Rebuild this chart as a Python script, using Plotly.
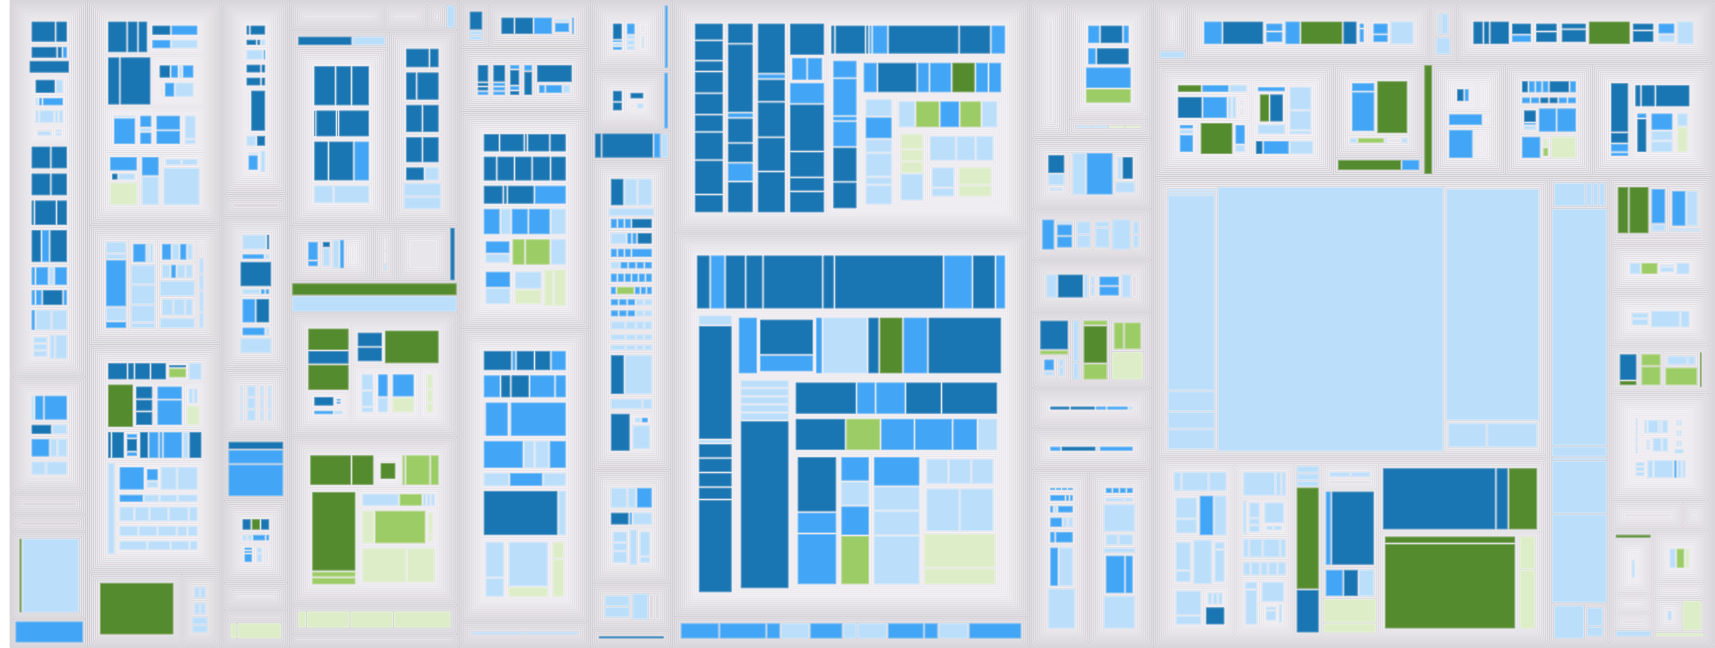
import plotly.graph_objects as go

# ---- leaf colour categories ----
COLORS = {'D': '#1a76b3', 'M': '#42a5f5', 'L': '#bbdefb', 'G': '#558b2f',
          'g': '#9ccc65', 'p': '#dcedc8', 'e': '#e9e6eb'}

# group = [orientation, frames, total, *children] ; leaf = (category, value)
A1 = ['V', 6, 24150,
      ['H', 0, None, ('D', 420), ('D', 200)],
      ['H', 0, None, ('D', 280), ('D', 56), ('M', 56)],
      ('D', 315),
      ['V', 1, None,
       ['H', 0, None, ('D', 360), ('L', 144)],
       ['H', 0, None, ('L', 45), ('M', 45), ('M', 255)],
       ['H', 0, None, ('L', 68), ('L', 255), ('L', 68), ('L', 85)],
       ['H', 0, None, ['V', 0, None, ('L', 66), ('L', 200)], ['V', 0, None, ('L', 72), ('L', 72)]]],
      ['H', 0, None, ('D', 360), ('D', 300)],
      ['H', 0, None, ('D', 360), ('D', 300)],
      ['H', 0, None, ('D', 66), ('D', 440), ('D', 220)],
      ['H', 0, None, ('D', 260), ('M', 208), ('D', 442)],
      ['H', 0, None, ('M', 68), ('M', 204), ('L', 85), ('M', 204)],
      ['H', 0, None, ('M', 60), ('M', 90), ('D', 280), ('M', 60)],
      ['H', 0, None, ('M', 72), ('L', 270), ('L', 270)],
      ['H', 0, None, ['V', 0, None, ('L', 120), ('L', 120), ('L', 120)], ('L', 100), ('L', 240)]]
A2 = ['V', 6, 7490,
      ['H', 0, None, ('L', 90), ('M', 240), ('M', 600)],
      ['H', 0, None, ('D', 260), ('L', 195)],
      ['H', 0, None, ('M', 375), ('L', 150), ('L', 200)],
      ['H', 0, None, ('L', 238), ('L', 340)]]
COL_A = ['V', 0, 41440, A1, A2,
         ['H', 3, 1400, ('L', 15), ('L', 10), ('L', 10), ('L', 10), ('L', 15)],
         ['H', 4, 1120, ('e', 1)],
         ['H', 1, 5600, ('G', 3), ('L', 57)],
         ['H', 0, 1680, ('M', 1)]]

B1 = ['V', 6, 25215,
      ['H', 0, None, ('D', 594), ('D', 330), ('D', 297),
       ['V', 0, None, ['H', 0, None, ('D', 352), ('M', 496)], ['H', 0, None, ('M', 330), ('L', 465)]]],
      ['H', 0, None, ('D', 550), ('D', 1375),
       ['V', 1, None,
        ['H', 0, None, ('D', 360), ('M', 240), ('L', 120), ('M', 360)],
        ['H', 0, None, ['V', 0, None, ('M', 90), ('M', 90)], ('M', 352), ('L', 644)]]],
      ['H', 1, None, ['V', 0, None, ('L', 100), ('M', 1000)], ['V', 0, None, ('M', 289), ('L', 102), ('M', 289)],
       ['V', 0, None, ('M', 616), ('M', 588)], ['V', 0, None, ('L', 525), ('L', 120)]],
      ['H', 0, None, ['V', 0, None, ('M', 455), ['H', 0, None, ('D', 96), ('L', 252)], ('p', 726)],
       ['V', 0, None, ('M', 420), ('L', 630)],
       ['V', 0, None, ['H', 0, None, ('L', 221), ('L', 221)], ('L', 1520)]]]
B2 = ['H', 6, 13530,
      ['V', 0, None, ('L', 420), ('L', 210), ('M', 1620), ('L', 500), ('M', 246)],
      ['V', 0, None, ['H', 0, None, ('M', 590), ('L', 148), ('L', 177)], ('L', 787), ('L', 787), ('L', 689), ('L', 246)],
      ['V', 0, None, ['H', 0, None, ('M', 360), ('L', 288), ('M', 259), ('L', 216)],
       ['H', 0, None, ('L', 288), ('M', 173), ('L', 288), ('L', 230)], ('L', 864),
       ['H', 0, None, ('L', 432), ('L', 432), ('L', 288)], ('L', 576)],
      ['V', 0, None, ['H', 0, None, ('L', 100), ('L', 100)], ('L', 200), ('L', 200), ('L', 268), ('L', 200)]]
B3 = ['V', 6, 25830,
      ['H', 0, None, ('D', 330), ('D', 110), ('D', 264), ('D', 264), ['V', 0, None, ('D', 90), ('g', 270)], ('L', 220)],
      ['H', 0, None, ('G', 946), ['V', 0, None, ('D', 260), ('D', 240), ('D', 280)],
       ['V', 0, None, ('M', 375), ('M', 700)], ['V', 0, None, ['H', 0, None, ('L', 160), ('L', 160)], ('p', 320)]],
      ['H', 0, None, ('D', 93), ('D', 310), ['V', 0, None, ('M', 75), ('D', 210), ('M', 75)], ('D', 217),
       ('M', 248), ('M', 93), ('M', 465), ('L', 155), ('D', 310)],
      ['H', 0, None, ('L', 552),
       ['V', 0, None,
        ['H', 0, None, ('M', 644), ['V', 0, None, ('M', 255), ('L', 150)], ('L', 425), ('L', 532)],
        ['H', 0, None, ('M', 276), ('L', 180), ('L', 204), ('L', 228)],
        ['H', 0, None, ('L', 270), ('L', 270), ('L', 342), ('L', 360), ('L', 162)],
        ['H', 0, None, ('L', 264), ('L', 264), ('L', 264), ('L', 144), ('L', 144)],
        ['H', 0, None, ('L', 360), ('L', 300), ('L', 240), ('L', 108)]]]]
B4 = ['H', 0, 8241, ['H', 2, 5896, ('G', 1)],
      ['V', 3, 2345, ['H', 0, None, ('L', 1), ('L', 1)], ['H', 0, None, ('L', 1), ('L', 1)], ('L', 1), ('L', 1)]]
COL_B = ['V', 0, 72816, B1, B2, B3, B4]

C1 = ['V', 8, 10850,
      ['H', 0, None, ('D', 60), ('D', 240)],
      ['H', 0, None, ('D', 121), ('D', 44), ('L', 55)],
      ['H', 0, None, ('L', 266), ('M', 42)],
      ['H', 0, None, ('D', 209), ('D', 66)],
      ['H', 0, None, ('D', 209), ('D', 66)],
      ['H', 0, None, ['V', 0, None, ('M', 144), ('M', 42), ('M', 42)], ('D', 731)],
      ['H', 0, None, ('L', 168), ('D', 150)],
      ['H', 0, None, ['V', 0, None, ('L', 57), ('M', 342)], ('L', 154)]]
C3 = ['V', 6, 8680,
      ['H', 0, None, ('L', 418), ('D', 57)],
      ['H', 0, None, ('M', 187), ('L', 44)],
      ('D', 621),
      ['H', 0, None, ('L', 156), ('M', 39), ('M', 39)],
      ['H', 0, None, ('M', 348), ('D', 348)],
      ['H', 0, None, ('M', 260), ('L', 52)],
      ('L', 378)]
C6 = ['V', 6, 4650,
      ['H', 0, None, ('D', 112), ('G', 112), ('D', 112)],
      ['H', 0, None, ('L', 44), ('L', 44), ('M', 110), ('M', 33)],
      ['H', 0, None, ['V', 0, None, ('M', 48), ('M', 48), ('M', 132)], ['V', 0, None, ('L', 72), ('L', 108)],
       ['V', 0, None, ('L', 40), ('L', 60)]]]
COL_C = ['V', 0, 36704, C1,
         ['H', 4, 1240, ('L', 1), ('L', 1), ('L', 1), ('L', 1)],
         C3,
         ['H', 5, 3844, ['V', 0, None, ('L', 30), ('L', 42), ('L', 42), ('L', 42)],
          ['V', 0, None, ('L', 100), ('L', 100), ('L', 100)], ['V', 0, None, ('L', 60), ('L', 60), ('L', 60)],
          ['V', 0, None, ('L', 60), ('L', 60), ('L', 60)]],
         ['V', 0, 3596, ('D', 7), ('M', 12), ('M', 27)],
         C6,
         ['H', 6, 1550, ('L', 10), ('L', 3)],
         ['V', 0, 1984, ['H', 3, 8, ('e', 1)], ['H', 0, 24, ('p', 7), ('p', 45)]]]

D2 = ['H', 0, 27900,
      ['V', 0, 16560, ['H', 0, 1196, ('D', 52), ('L', 32)],
       ['V', 6, 15364,
        ['H', 0, None, ('D', 968), ('D', 704), ('D', 792)],
        ['H', 0, None, ('D', 64), ('D', 640), ('D', 64), ('D', 960)],
        ['H', 0, None, ('D', 645), ('D', 1118), ('M', 688)],
        ['H', 0, None, ('L', 440), ('L', 800)]]],
      ['V', 6, 11340,
       ['H', 0, None, ('D', 374), ('D', 154)],
       ['H', 0, None, ('D', 240), ('D', 480)],
       ['H', 0, None, ('D', 360), ('D', 360)],
       ['H', 0, None, ('D', 336), ('D', 336)],
       ['H', 0, None, ('D', 224), ('L', 176)],
       ('L', 308), ('L', 280)]]
D3 = ['H', 0, 8215,
      ['H', 5, 3975, ['V', 0, None, ('M', 36), ('M', 12)], ['V', 0, None, ('D', 10), ('L', 30)], ('L', 24), ('M', 16),
       ['H', 2, 56, ('e', 1)]],
      ['V', 4, 1166, ['H', 0, None, ('L', 1), ('L', 1)], ['H', 0, None, ('L', 1), ('L', 1)], ('L', 1)],
      ['H', 5, 2650, ('e', 1)],
      ('D', 265)]
D6 = ['H', 6, 17825,
      ['V', 0, None, ('G', 720), ('D', 440), ('G', 840),
       ['V', 1, None, ['H', 0, None, ('D', 414), ['V', 0, None, ('M', 88), ('M', 99)]], ['H', 0, None, ('M', 253), ('L', 121)]]],
      ['V', 0, None, ['H', 0, None, ['V', 0, None, ('D', 429), ('D', 429)], ('G', 1598)],
       ['H', 0, None,
        ['H', 1, None, ['V', 0, None, ('L', 340), ('L', 340), ('L', 119)], ['V', 0, None, ('M', 420), ('L', 285)],
         ['V', 0, None, ('M', 756), ('p', 513)]],
        ['V', 1, None, ('p', 320), ('p', 272), ('p', 208)]]]]
D7 = ['V', 6, 24025,
      ['H', 0, None, ('G', 1480), ('G', 800), ['V', 1, None, ('g', 90), ('G', 900)], ('g', 120), ('g', 880), ('g', 320)],
      ['H', 0, None, ['V', 0, None, ('G', 4278), ('g', 322), ('g', 414)],
       ['V', 0, None, ['H', 0, None, ('L', 770), ('g', 484), ('L', 88), ('L', 88), ('L', 88)],
        ['H', 0, None, ('p', 585), ('g', 2385), ['V', 0, None, ('p', 330), ('p', 100)]],
        ['H', 0, None, ('p', 2150), ('p', 1376)]]]]
COL_D = ['V', 0, 91760,
         ['H', 0, 3875, ['H', 4, 2100, ('e', 1)], ['H', 4, 1000, ('e', 1)], ['V', 3, 450, ('e', 1)], ('L', 200)],
         D2, D3, ('G', 1860), ('L', 2325), D6, D7,
         ['H', 2, 4185, ('p', 8), ('p', 40), ('p', 40), ('p', 53)],
         ['H', 1, 1550, ('G', 1)]]

E3 = ['V', 8, 24000,
      ['H', 0, None, ('D', 352), ('D', 528), ('D', 66), ('D', 484), ('D', 352)],
      ['H', 0, None, ('D', 378), ('D', 486), ('D', 486), ('D', 513), ('D', 432)],
      ['H', 0, None, ('D', 440), ('D', 88), ('D', 594), ('M', 704)],
      ['H', 0, None, ('M', 493), ('L', 319), ('M', 493), ('M', 638), ('L', 464)],
      ['H', 0, None, ['V', 0, None, ('M', 480), ('L', 352)], ('g', 377), ('g', 725), ('L', 464)],
      ['H', 0, None, ['V', 0, None, ('M', 576), ('L', 576)], ['V', 0, None, ('L', 660), ('p', 561)], ('p', 380), ('p', 494)]]
E4 = ['V', 8, 32400,
      ['H', 0, None, ('D', 756), ('M', 108), ('D', 486), ('D', 432), ('M', 405)],
      ['H', 0, None, ('M', 510), ('D', 300), ('D', 540), ('M', 750), ('M', 330)],
      ['H', 0, None, ('L', 80), ('M', 960), ('L', 80), ('M', 2320)],
      ['H', 0, None, ('M', 1386), ('L', 396), ('L', 495), ('M', 594)],
      ['H', 0, None, ('L', 504), ('M', 648), ('L', 450)],
      ['H', 0, None, ('D', 3969), ('L', 441)],
      ['H', 0, None, ['V', 0, None, ('L', 1025), ('L', 550)], ['V', 0, None, ('L', 2444), ('p', 564)],
       ['V', 0, None, ('p', 342), ('p', 756)]]]
COL_E = ['V', 0, 71040,
         ['H', 0, 5040, ['V', 1, 1050, ('D', 22), ('L', 6), ('L', 6)],
          ['H', 5, 3990, ('D', 10), ('D', 14), ('M', 14), ['V', 0, 14, ('L', 2), ('M', 6)], ('M', 2)]],
         ['H', 6, 6960, ['V', 0, None, ('D', 156), ('D', 39), ('D', 39), ('M', 39)],
          ['V', 0, None, ('D', 168), ('M', 42), ('M', 42), ('M', 42)],
          ['V', 0, None, ('M', 39), ('D', 130), ('M', 39), ('D', 39)],
          ['V', 0, None, ('M', 48), ('D', 176)],
          ['V', 0, None, ('D', 405), ['H', 0, None, ('M', 60), ('M', 156), ('L', 72)]]],
         E3, E4,
         ['H', 4, 2640, ('L', 58), ('L', 55)]]

F4 = ['V', 6, 21375,
      ['H', 0, None, ('D', 325), ('L', 325), ('L', 350)],
      ('L', 264),
      ['H', 0, None, ('M', 75), ('M', 75), ('M', 75), ('D', 225)],
      ['H', 0, None, ('L', 195), ('M', 60), ('M', 60), ('D', 180)],
      ['H', 0, None, ('M', 70), ('M', 70), ('M', 70), ('M', 210)],
      ['H', 0, None, ('L', 84), ('M', 70), ('M', 70), ('M', 70), ('M', 70)],
      ['H', 0, None, ('M', 70), ('M', 70), ('M', 70), ('M', 70), ('M', 70), ('M', 70)],
      ['H', 0, None, ('M', 56), ('g', 168), ('M', 56), ('M', 56), ('M', 56)],
      ['H', 0, None, ('M', 70), ('M', 70), ('M', 70), ('L', 70), ('L', 70)],
      ['H', 0, None, ('M', 70), ('M', 70), ('M', 70), ('L', 70), ('L', 70)],
      ['H', 0, None, ('L', 150), ('L', 100), ('L', 80), ('L', 80)],
      ['H', 0, None, ('L', 120), ('L', 80), ('L', 64), ('L', 64)],
      ['H', 0, None, ('L', 120), ('L', 80), ('L', 64), ('L', 64)],
      ['H', 0, None, ('D', 462), ('L', 924)],
      ['H', 0, None, ('L', 352), ('L', 110)],
      ['H', 0, None, ('D', 630), ['V', 0, None, ['H', 0, None, ('L', 100), ('M', 100)], ('L', 500)]]]
COL_F = ['V', 0, 44400,
         ['H', 0, 4650,
          ['H', 6, 4400, ['V', 0, None, ('D', 156), ('M', 24), ('L', 36), ('M', 36)],
           ['V', 0, None, ('M', 100), ('L', 40), ('L', 50), ('L', 40)],
           ['V', 0, None, ['H', 0, None, ('L', 40), ('L', 40)], ['H', 0, None, ('g', 30), ('L', 90)]]],
          ('M', 250)],
         ['H', 0, 4200,
          ['H', 6, 3950, ['V', 0, None, ('D', 169), ('D', 130)],
           ['V', 0, None, ['H', 0, None, ('D', 26), ('D', 234)],
            ['H', 0, None, ['V', 0, None, ('M', 36), ('M', 96)], ('L', 108)]]],
          ('M', 250)],
         ['H', 0, 2025, ('D', 6), ('D', 42), ('M', 6), ('L', 6)],
         F4,
         ['V', 6, 7875, ['H', 0, None, ('L', 405), ('L', 216), ('M', 378)],
          ['H', 0, None, ('D', 306), ('M', 54), ('L', 324)],
          ['H', 0, None, ['V', 0, None, ('L', 260), ('L', 200), ('L', 280)], ('L', 304),
           ['V', 0, None, ('L', 450), ('L', 120)]]],
         ['H', 4, 3225, ['V', 0, None, ('L', 375), ('L', 375)], ('L', 416),
          ['V', 0, None, ('L', 75), ('L', 75)], ['V', 0, None, ('L', 75), ('L', 75)]],
         ['H', 1, 1050, ('D', 1)]]

G1 = ['H', 8, 69324,
      ['V', 0, None, ('D', 512), ('D', 608), ('D', 320), ('D', 640), ('D', 640), ('D', 512), ('D', 832), ('D', 1024), ('D', 544)],
      ['V', 0, None, ('D', 560), ('D', 1848), ('M', 140), ('D', 672), ('D', 532), ('M', 504), ('D', 840)],
      ['V', 0, None, ('D', 1470), ('M', 150), ('D', 660), ('D', 1020), ('D', 990), ('D', 1200)],
      ['V', 0, None, ('D', 1140), ['H', 0, None, ('M', 476), ('M', 476)], ('M', 760), ('D', 1672), ('D', 912), ('D', 494), ('D', 760)],
      ['V', 0, None,
       ['H', 0, None, ('D', 132), ('D', 957), ('D', 99), ('M', 99), ('M', 495), ('D', 2211), ('D', 990), ('M', 462)],
       ['H', 0, None,
        ['V', 0, None, ('M', 504), ('M', 1064), ('M', 140), ('M', 728), ('D', 980), ('D', 756)],
        ['V', 0, None,
         ['H', 0, None, ('M', 518), ('D', 1443), ('M', 444), ('M', 814), ('G', 851), ('M', 481), ('M', 481)],
         ['H', 0, None,
          ['V', 0, None, ('L', 630), ('M', 770), ('L', 490), ('L', 840), ('L', 280), ('L', 700)],
          ['V', 0, None,
           ['H', 0, None, ('L', 646), ('g', 918), ('M', 748), ('g', 816), ('L', 612)],
           ['H', 0, None,
            ['V', 0, None, ('p', 576), ('p', 448), ('p', 448), ('L', 1024)],
            ['V', 0, None,
             ['H', 0, None, ('L', 1190), ('L', 875), ('L', 805)],
             ['H', 0, None, ['V', 0, None, ('L', 1088), ('L', 476)], ['V', 0, None, ('p', 1296), ('p', 864)]]]]]]]]]]
G2 = ['V', 8, 115758,
      ['H', 0, None, ('D', 636), ('M', 689), ('D', 954), ('D', 795), ('D', 2756), ('D', 530), ('D', 5035), ('M', 1325),
       ('D', 1060), ('M', 477)],
      ['H', 0, None,
       ['V', 0, None, ('L', 320), ('D', 3520), ('L', 128), ('D', 448), ('D', 448), ('D', 448), ('D', 384), ('D', 2880)],
       ['V', 0, None,
        ['H', 0, None, ('M', 986), ['V', 0, None, ('D', 2014), ('M', 954)], ('M', 348), ('L', 2320), ('D', 580),
         ('G', 1218), ('M', 1276), ('D', 3770)],
        ['H', 0, None,
         ['V', 0, None, ('L', 376), ('L', 376), ('L', 376), ('L', 376), ('L', 376), ('D', 7755)],
         ['V', 0, None,
          ['H', 0, None, ('D', 2030), ('M', 630), ('M', 980), ('D', 1190), ('D', 1855)],
          ['H', 0, None, ('D', 1665), ('g', 1147), ('M', 1110), ('M', 1258), ('M', 814), ('L', 666)],
          ['H', 0, None,
           ['V', 0, None, ('D', 2340), ('M', 900), ('M', 2160)],
           ['V', 0, None, ('M', 775), ('L', 775), ('M', 930), ('g', 1550)],
           ['V', 0, None, ('M', 1440), ('L', 1200), ('L', 1200), ('L', 2400)],
           ['V', 0, None, ['H', 0, None, ('L', 720), ('L', 720), ('L', 720)],
            ['H', 0, None, ('L', 1728), ('L', 1728)], ('p', 2520), ('p', 1224)]]]]]]]
COL_G = ['V', 0, 193584, G1, G2,
         ['H', 2, 8502, ('M', 33), ('M', 40), ('M', 12), ('L', 25), ('M', 28), ('L', 12), ('L', 26), ('M', 31),
          ('M', 12), ('L', 26), ('M', 45)]]

COL_H = ['V', 0, 66896,
         ['H', 0, 14125,
          ['V', 8, 4125, ('D', 4), ('D', 3), ('D', 2), ('M', 8), ('p', 6), ('g', 5), ('L', 3)],
          ['V', 0, 10000,
           ['V', 6, 8800, ['H', 0, None, ('M', 276), ('D', 506), ('M', 138)], ['H', 0, None, ('M', 180), ('D', 680)],
            ('M', 874), ('g', 598)],
           ['H', 1, 1200, ('L', 16), ('L', 16), ('p', 16), ('p', 16)]]],
         ['H', 6, 7345, ['V', 0, None, ('D', 285), ('L', 180), ['H', 0, None, ('L', 56), ('L', 56)]],
          ['V', 0, None, ('L', 50), ('L', 90)], ('L', 385), ('M', 735),
          ['V', 0, None, ['H', 0, None, ('L', 140), ('D', 319)], ('L', 200)]],
         ['H', 3, 5311, ('M', 407), ['V', 0, None, ('L', 69), ('M', 276), ('M', 276)],
          ['V', 0, None, ('L', 289), ('L', 289)], ['V', 0, None, ('L', 144), ('L', 450)], ('L', 595),
          ['V', 0, None, ('L', 162), ('L', 162)]],
         ['H', 6, 5424, ('L', 140), ('D', 315), ('L', 60), ['V', 0, None, ('L', 48), ('L', 54)],
          ['V', 0, None, ('M', 147), ('M', 147)], ('L', 120), ['V', 0, None, ('L', 36), ('L', 36)]],
         ['H', 2, 7910,
          ['V', 0, None, ('D', 840), ('g', 140),
           ['H', 0, None, ['V', 0, None, ('M', 288), ('L', 126)], ['V', 0, None, ('L', 132), ('L', 156)]]],
          ['V', 0, None, ('L', 378), ('L', 162)],
          ['V', 0, None, ('g', 135), ('G', 918), ('g', 405)],
          ['V', 0, None, ['H', 0, None, ('g', 360), ('g', 600)], ('p', 864)]],
         ['H', 8, 4181, ('D', 16), ('D', 20), ('M', 9), ('M', 17), ('L', 4)],
         ['H', 7, 4294, ('M', 10), ('D', 31), ('L', 3), ('M', 30)],
         ['H', 0, 18306,
          ['V', 6, 8800, ['H', 0, None, ('M', 36), ('M', 36), ('M', 36), ('M', 36)],
           ['H', 0, None, ('M', 144), ('M', 36), ('M', 36)], ['H', 0, None, ('M', 39), ('L', 39), ('M', 156)],
           ['H', 0, None, ('M', 156), ('L', 65), ('L', 65)], ['H', 0, None, ('M', 72), ('M', 240)],
           ['H', 0, None, ('M', 320), ('L', 544)], ('L', 812)],
          ['V', 6, 9506, ['H', 0, None, ('M', 77), ('M', 77), ('M', 77), ('M', 77)],
           ['H', 0, None, ('L', 176), ('L', 80)], ('L', 850), ['H', 0, None, ('L', 216), ('L', 255)], ('L', 170),
           ['H', 0, None, ('M', 912), ('M', 380)], ('L', 1008)]]]

R1 = ['H', 0, 28215,
      ['V', 0, 1540, ['H', 5, 45, ('e', 1)], ('L', 8)],
      ['H', 6, 12375, ('M', 288), ('D', 630), ['V', 0, None, ('M', 138), ('M', 184)], ('M', 234), ('G', 648),
       ('D', 216), ['V', 0, None, ('M', 40), ('M', 100)], ['V', 0, None, ('M', 25), ('M', 45)],
       ['V', 0, None, ('M', 168), ('M', 126)], ('L', 360)],
      ['V', 2, 1375, ['H', 0, None, ('L', 125), ('L', 300)], ('L', 288)],
      ['H', 6, 12925, ('D', 144), ('D', 90), ('D', 270), ['V', 0, None, ('D', 198), ('M', 132)],
       ['V', 0, None, ('D', 154), ('D', 198)], ['V', 0, None, ('D', 125), ('D', 275)], ('G', 576),
       ['V', 0, None, ('D', 132), ('D', 220)], ['V', 0, None, ('M', 162), ('L', 126)], ('L', 234)]]
R2 = ['H', 0, 53865,
      ['H', 6, 17010,
       ['V', 0, None,
        ['H', 0, None, ('G', 243), ('M', 270), ('L', 180)],
        ['H', 0, None, ('D', 550), ('M', 550), ('L', 100), ('L', 100),
         ['V', 0, None, ['H', 0, None, ('M', 56), ('M', 56)], ['H', 0, None, ('L', 63), ('L', 63)]]],
        ['H', 0, None, ['V', 0, None, ('M', 88), ('L', 110), ('M', 352)], ['V', 0, None, ('L', 72), ('g', 72)],
         ('G', 992), ['V', 0, None, ('M', 308), ('L', 126)]]],
       ['V', 0, None,
        ['H', 0, None, ['V', 0, None, ('M', 168), ['H', 0, None, ('G', 444), ('D', 592)], ('L', 336)],
         ['V', 0, None, ('L', 616), ('L', 528), ('L', 110)]],
        ['H', 0, None, ('D', 120), ('M', 405), ('L', 375)]]],
      ['V', 0, 8715,
       ['V', 5, 7470, ['H', 0, None, ['V', 0, None, ('M', 200), ('M', 875)], ('G', 1222)],
        ['H', 0, None, ('L', 54), ('g', 180), ('L', 18), ['V', 0, None, ('M', 48), ('M', 48)], ('L', 45)]],
       ['H', 0, 1245, ('G', 224), ('M', 64)]],
      ('G', 840),
      ['V', 5, 7035, ['H', 0, 2100, ['H', 3, 35, ('D', 255), ('M', 170)], ['H', 2, 15, ('e', 1)]],
       ['H', 0, 1000, ('M', 440), ['H', 2, 88, ('e', 1)]],
       ['H', 0, 2100, ('M', 675), ['H', 3, 450, ('e', 1)]]],
      ['V', 6, 8400, ['H', 0, None, ('D', 56), ('M', 56), ('M', 56), ('M', 56), ('D', 168), ('M', 56)],
       ['H', 0, None, ('M', 50), ('M', 50), ('D', 50), ('D', 50), ('M', 50), ('M', 50)],
       ['H', 0, None, ['V', 0, None, ('D', 150), ('M', 30), ('L', 60)], ('M', 260), ('M', 280)],
       ['H', 0, None, ('M', 255), ['V', 0, None, ('p', 64), ('g', 64)], ('p', 340)]],
      ['H', 6, 11340, ['V', 0, None, ('D', 990), ('D', 220), ('M', 176), ('M', 88)],
       ['V', 0, None, ['H', 0, None, ('D', 168), ('D', 384), ('D', 936)],
        ['H', 0, None, ['V', 0, None, ('M', 96), ('D', 592)], ['V', 0, None, ('M', 558), ('L', 341), ('L', 372)],
         ['V', 0, None, ('L', 255), ('p', 476)]]]]]
R3_BOTTOM = ['H', 1, 62264,
             ['V', 1, 11524, ['H', 0, None, ('L', 225), ('L', 750), ('L', 500)],
              ['H', 0, None, ['V', 0, None, ('L', 800), ('L', 550)], ('M', 760), ('L', 684)],
              ['H', 0, None, ['V', 0, None, ('L', 800), ('L', 325)], ('L', 1080), ['V', 0, None, ('L', 160), ('L', 680)]],
              ['H', 0, None, ['V', 0, None, ('L', 1088), ('L', 416)],
               ['V', 0, None, ['H', 0, None, ('L', 180), ('L', 200), ('L', 180)], ('D', 616)]]],
             ['V', 1, 9804, ['H', 0, None, ('L', 1200), ('L', 210), ('L', 180)],
              ['H', 0, None, ('L', 192), ['V', 0, None, ('L', 399), ('L', 171), ('L', 190)],
               ['V', 0, None, ('L', 840), ['H', 0, None, ('L', 168), ('L', 196)]]],
              ['H', 0, None, ('L', 182), ('L', 416), ('L', 520), ('L', 182)],
              ['H', 0, None, ('L', 180), ('L', 220), ('L', 180), ('L', 220), ('L', 200)],
              ['H', 0, None, ['V', 0, None, ('L', 200), ('L', 900)],
               ['V', 0, None, ('L', 840), ['H', 0, None, ['V', 0, None, ('L', 216), ('L', 540)], ('L', 180)]]]],
             ['V', 0, 4472, ('L', 184), ('L', 184), ('L', 161), ('G', 2530), ('D', 1081)],
             ['V', 0, 9460, ['V', 1, None, ['H', 0, None, ('L', 378), ('L', 350)], ['H', 0, None, ('L', 144), ('L', 144), ('L', 153)]],
              ['H', 0, None, ('M', 480), ('D', 3440)], ['H', 0, None, ('M', 576), ('D', 480), ('L', 512)],
              ('p', 1219), ('p', 504)],
             ['V', 0, 27004, ['H', 0, None, ('D', 8880), ('D', 962), ('G', 2294)],
              ['H', 0, None, ['V', 0, None, ('G', 1296), ('G', 14832)], ['V', 0, None, ('p', 861), ('p', 1512)]]]]
R3_RIGHT = ['V', 0, 40176,
            ['V', 0, 5580,
             ['H', 0, None, ('G', 583), ('G', 1007), ['V', 0, None, ('M', 760), ('L', 171)],
              ['V', 0, None, ['H', 0, None, ('M', 855), ('L', 720)], ('L', 140)]],
             ['H', 0, None, ('e', 192), ('L', 92), ('M', 102)]],
            ['H', 8, 4185, ('L', 110), ('g', 160), ['V', 0, None, ('L', 51), ('L', 119)], ('L', 130)],
            ['H', 8, 4650, ['V', 0, None, ('L', 176), ('L', 198)], ('L', 510), ('L', 170)],
            ['H', 2, 4185, ['V', 0, None, ('D', 494), ('G', 95)], ['V', 0, None, ('g', 252), ('g', 399)],
             ['V', 0, None, ['H', 0, None, ('L', 299), ('L', 117)], ('g', 576)], ('G', 62)],
            ['V', 8, 9300,
             ['H', 0, None, ['V', 0, None, ('L', 66), ('L', 66), ('L', 66), ('L', 66)],
              ['V', 0, None, ['H', 0, None, ('L', 90), ('L', 288), ('L', 72), ('L', 162)],
               ['H', 0, None, ['V', 0, None, ('L', 72), ('L', 72), ('L', 72)], ('L', 252), ('L', 162)]],
              ['V', 0, None, ['H', 0, None, ('L', 77), ('L', 77)], ['H', 0, None, ('L', 77), ('L', 77)],
               ['H', 0, None, ('L', 77), ('L', 77)], ('L', 75)]],
             ['H', 0, None, ['V', 0, None, ('L', 90), ('L', 90), ('L', 90)], ('L', 128), ('L', 400), ('M', 64),
              ('L', 96), ('L', 80)]],
            ['H', 0, 2604, ['H', 6, 70, ('e', 1)], ['H', 4, 23, ('e', 1)]],
            ['H', 0, 9672,
             ['V', 0, 40, ('G', 3), ['V', 6, 42, ['H', 0, None, ('L', 30), ('L', 48)], ('L', 260)],
              ['H', 5, 14, ('e', 1)], ['H', 5, 13, ('e', 1)], ('L', 5)],
             ['V', 0, 53, ['H', 6, 45, ('L', 8), ('g', 10), ('p', 6)], ['H', 5, 15, ('e', 1)],
              ['H', 0, 32, ['V', 4, 25, ('L', 1)], ('p', 20)], ('p', 4)]]]
R3 = ['H', 0, 221616,
      ['V', 0, 156384,
       ['H', 1, 94120,
        ['V', 0, 13000, ('L', 3), ('L', 3), ('L', 190), ('L', 20), ('L', 17), ('L', 20)],
        ('L', 56680),
        ['V', 0, 24440, ('L', 225), ['H', 0, 28, ('L', 40), ('L', 52)]]],
       R3_BOTTOM],
      ['V', 0, 23760, ['H', 0, 25, ('L', 30), ('L', 6), ('L', 6), ('L', 6)], ('L', 213), ('L', 10), ('L', 3),
       ('L', 48), ('L', 80), ['H', 0, 34, ('L', 30), ['V', 0, 20, ('L', 22), ('L', 12)]]],
      R3_RIGHT]
COL_R = ['V', 0, 303696, R1, R2, R3]

ROOT = ['H', 0, None, COL_A, COL_B, COL_C, COL_D, COL_E, COL_F, COL_G, COL_H, COL_R]

# ---- build the plotly hierarchy ----
def eff(n):
    if isinstance(n, tuple):
        return n[1]
    return n[2] if n[2] is not None else sum(eff(k) for k in n[3:])

ids, parents, values, colors, lines = [], [], [], [], []
C0 = (205, 202, 208)
C1 = (235, 232, 237)


def hex_rgb(h):
    h = h.lstrip('#')
    return tuple(int(h[i:i + 2], 16) for i in (0, 2, 4))


def mix(c, t):
    return 'rgb(%d,%d,%d)' % tuple(round(v + (255 - v) * t) for v in c)


def frame_rgb(depth):
    t = min(depth / 12.0, 1.0)
    return tuple(round(C0[i] + (C1[i] - C0[i]) * t) for i in range(3))


def new_node(parent, rgb, value, line_t):
    nid = f'n{len(ids)}'
    ids.append(nid)
    parents.append(parent)
    values.append(value)
    colors.append('rgb(%d,%d,%d)' % rgb)
    lines.append(mix(rgb, line_t))
    return nid


def build(n, parent, depth, final):
    if isinstance(n, tuple):
        new_node(parent, hex_rgb(COLORS[n[0]]), final, 0.3)
        return
    orient, frames = n[0], n[1]
    kids = n[3:]
    want = 0 if orient == 'H' else 1
    k = frames
    if (depth + k) % 2 != want:
        k += 1
    pid = parent
    for _ in range(k):
        pid = new_node(pid, frame_rgb(depth), 0, 0.45)
        depth += 1
    gid = new_node(pid, frame_rgb(depth), 0, 0.45)
    s = final / sum(eff(c) for c in kids)
    for c in kids:
        build(c, gid, depth + 1, eff(c) * s)


build(ROOT, '', 0, eff(ROOT))

fig = go.Figure(go.Treemap(
    ids=ids, labels=[' '] * len(ids), parents=parents, values=values,
    branchvalues='remainder', sort=False,
    marker=dict(colors=colors, line=dict(width=1, color=lines),
                pad=dict(t=2, l=2, r=2, b=2)),
    tiling=dict(packing='slice-dice', pad=2),
    pathbar=dict(visible=False),
    textinfo='none', textfont=dict(size=1, color='rgba(0,0,0,0)'),
    hoverinfo='skip'))
fig.update_layout(width=1715, height=648, margin=dict(l=10, r=0, t=0, b=0),
                  paper_bgcolor='white')
fig.write_html('out.html')
